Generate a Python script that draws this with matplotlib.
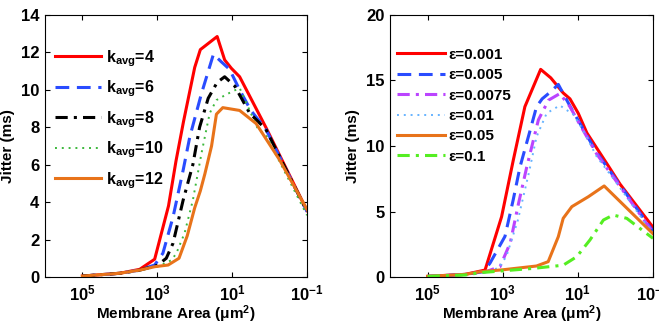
import numpy as np
import matplotlib
matplotlib.use("Agg")
import matplotlib.pyplot as plt

plt.rcParams['font.family'] = ['Liberation Sans', 'DejaVu Sans']
plt.rcParams['font.weight'] = 'bold'
plt.rcParams['mathtext.fontset'] = 'custom'
plt.rcParams['mathtext.rm'] = 'Liberation Sans'
plt.rcParams['mathtext.bf'] = 'Liberation Sans:bold'
plt.rcParams['mathtext.it'] = 'Liberation Sans:bold'

# ---- Left panel data (log10 of membrane area, jitter ms) ----
k4_lx = [5, 4, 3.47, 3.07, 2.7, 2.5, 2.3, 2.0, 1.85, 1.4, 1.2, 1.02, 0.8, 0.1, -1]
k4_y = [0.05, 0.2, 0.41, 0.95, 3.8, 6.2, 8.3, 11.2, 12.15, 12.85, 11.6, 11.15, 10.7, 8.0, 3.55]
k6_lx = [5, 4, 3.5, 3.07, 2.85, 2.58, 2.31, 2.13, 1.82, 1.5, 1.29, 1.07, 0.8, 0.5, 0.1, -1]
k6_y = [0.05, 0.2, 0.36, 0.64, 1.27, 3.2, 5.7, 7.5, 9.8, 11.9, 11.5, 11.1, 10.0, 8.9, 7.9, 3.5]
k8_lx = [5, 4, 3.5, 3.0, 2.76, 2.58, 2.31, 2.05, 1.87, 1.64, 1.4, 1.2, 0.93, 0.53, 0.1, -1]
k8_y = [0.05, 0.2, 0.35, 0.62, 1.0, 1.8, 4.1, 6.0, 8.0, 9.55, 10.4, 10.7, 10.2, 8.75, 7.9, 3.5]
k10_lx = [5, 4, 3.5, 3.0, 2.62, 2.49, 2.27, 2.05, 1.82, 1.6, 1.42, 1.16, 0.8, 0.31, 0.1, -1]
k10_y = [0.05, 0.2, 0.35, 0.55, 0.9, 1.27, 2.35, 4.1, 6.6, 8.75, 9.45, 9.75, 10.1, 7.9, 7.6, 3.3]
k12_lx = [5, 4, 3.47, 3.07, 2.71, 2.42, 2.2, 2.0, 1.85, 1.73, 1.55, 1.42, 1.25, 0.8, 0.36, -0.27, -1]
k12_y = [0.05, 0.2, 0.37, 0.55, 0.64, 1.0, 2.2, 3.7, 4.6, 5.5, 7.0, 8.7, 9.05, 8.9, 8.2, 6.25, 3.6]

left_series = [
    (k4_lx, k4_y, r'k$_{\mathbf{avg}}$=4', '#ff0000', '-', 2.2),
    (k6_lx, k6_y, r'k$_{\mathbf{avg}}$=6', '#2a4cff', (0, (4.5, 2.5)), 2.2),
    (k8_lx, k8_y, r'k$_{\mathbf{avg}}$=8', '#000000', (0, (4, 2, 1, 2)), 2.2),
    (k10_lx, k10_y, r'k$_{\mathbf{avg}}$=10', '#3cb83c', (0, (1, 2.5)), 1.4),
    (k12_lx, k12_y, r'k$_{\mathbf{avg}}$=12', '#e8731a', '-', 2.2),
]

# ---- Right panel data ----
e001_lx = [5, 4, 3.47, 3.03, 2.72, 2.41, 1.99, 1.72, 1.39, 1.21, 0.99, 0.76, 0.23, -0.12, -1]
e001_y = [0.05, 0.2, 0.53, 4.6, 8.9, 13.0, 15.85, 15.2, 14.05, 13.6, 12.5, 11.0, 8.66, 7.1, 3.8]
e005_lx = [5, 4, 3.52, 3.34, 2.94, 2.72, 2.54, 2.27, 2.1, 1.95, 1.74, 1.52, 1.39, 1.2, 0.94, 0.5, 0, -1]
e005_y = [0.05, 0.2, 0.4, 1.05, 3.1, 5.9, 8.4, 11.2, 13.0, 13.6, 14.1, 14.7, 14.0, 13.0, 11.7, 9.5, 7.5, 3.5]
e0075_lx = [5, 4, 3.5, 3.07, 2.8, 2.58, 2.36, 2.05, 1.78, 1.48, 1.21, 0.94, 0.5, 0, -1]
e0075_y = [0.05, 0.2, 0.35, 0.8, 2.6, 5.6, 8.4, 12.0, 13.5, 14.0, 13.0, 11.6, 9.4, 7.4, 3.4]
e01_lx = [5, 4, 3.5, 3.1, 2.9, 2.6, 2.3, 2.1, 1.83, 1.48, 1.12, 0.9, 0.5, 0, -1]
e01_y = [0.05, 0.2, 0.35, 0.7, 1.6, 4.3, 8.0, 10.7, 12.5, 13.1, 12.4, 11.4, 9.2, 7.3, 3.3]
e05_lx = [5, 4, 3.6, 3.0, 2.1, 1.79, 1.52, 1.39, 1.16, 0.94, 0.72, 0.3, -1]
e05_y = [0.05, 0.2, 0.4, 0.55, 0.84, 1.17, 3.08, 4.48, 5.37, 5.75, 6.13, 6.95, 3.3]
e1_lx = [5, 4, 3.6, 2.18, 1.39, 1.03, 0.68, 0.32, 0.06, -0.3, -1]
e1_y = [0.05, 0.15, 0.33, 0.66, 0.9, 1.55, 2.82, 4.35, 4.73, 4.48, 2.95]

right_series = [
    (e001_lx, e001_y, 'ε=0.001', '#ff0000', '-', 2.2),
    (e005_lx, e005_y, 'ε=0.005', '#2a4cff', (0, (4.5, 2.5)), 2.2),
    (e0075_lx, e0075_y, 'ε=0.0075', '#bb44ff', (0, (4, 2, 1, 2)), 2.2),
    (e01_lx, e01_y, 'ε=0.01', '#66b3ff', (0, (1, 2.5)), 1.4),
    (e05_lx, e05_y, 'ε=0.05', '#e8731a', '-', 2.2),
    (e1_lx, e1_y, 'ε=0.1', '#55ee22', (0, (4, 2, 1, 2)), 2.2),
]

xticks = [1e5, 1e3, 1e1, 1e-1]
xticklabels = [r'$\mathbf{10^{5}}$', r'$\mathbf{10^{3}}$', r'$\mathbf{10^{1}}$', r'$\mathbf{10^{-1}}$']

W, H = 659, 328
fig = plt.figure(figsize=(W / 100, H / 100), dpi=100)
axL = fig.add_axes([45 / W, 51 / H, 262 / W, 262 / H])
axR = fig.add_axes([390 / W, 51 / H, 263 / W, 262 / H])


def style(ax, ylim, yticks, series, legend_kw, legsize):
    for lx, y, lab, c, ls, lw in series:
        ax.plot(10.0 ** np.array(lx), y, color=c, linestyle=ls, linewidth=lw, label=lab)
    ax.set_xscale('log')
    ax.set_xlim(1e6, 1e-1)
    ax.set_ylim(*ylim)
    ax.set_xticks(xticks)
    ax.set_xticklabels(xticklabels)
    ax.minorticks_off()
    ax.set_yticks(yticks)
    ax.tick_params(direction='in', length=3.5, width=0.8, top=True, right=True,
                   labelsize=12, pad=4)
    ax.tick_params(axis='x', pad=5)
    for lab in ax.get_yticklabels():
        lab.set_fontweight('bold')
    for s in ax.spines.values():
        s.set_linewidth(0.8)
    ax.set_xlabel(r'Membrane Area (μm$^{\mathbf{2}}$)', fontsize=11, fontweight='bold', labelpad=0)
    ax.set_ylabel('Jitter (ms)', fontsize=11, fontweight='bold', labelpad=4)
    ax.legend(frameon=False, loc='upper left', prop={'size': legsize, 'weight': 'bold'},
              **legend_kw)


style(axL, (0, 14), range(0, 15, 2), left_series,
      dict(handlelength=2.9, handletextpad=0.3, labelspacing=0.62,
           bbox_to_anchor=(0.0, 0.91), borderaxespad=0.2), 11.5)
style(axR, (0, 20), range(0, 21, 5), right_series,
      dict(handlelength=3.2, handletextpad=0.2, labelspacing=0.42,
           bbox_to_anchor=(-0.01, 0.91), borderaxespad=0.2), 11)

fig.savefig('out.png', dpi=100)
